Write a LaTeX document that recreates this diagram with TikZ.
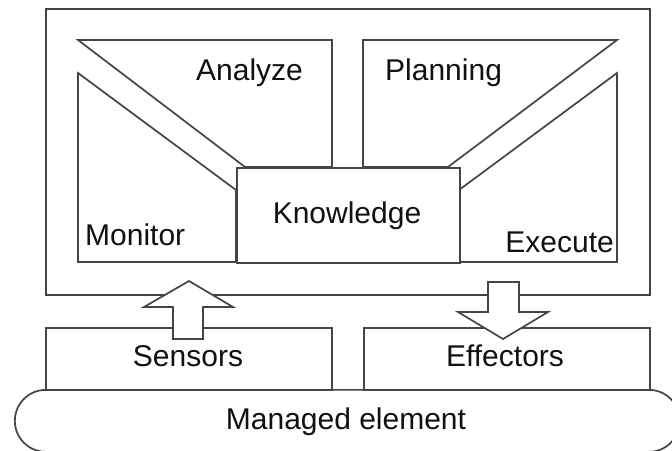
\documentclass[tikz,border=0pt]{standalone}
\usepackage{fontspec}
\setmainfont{Liberation Sans}
\definecolor{ln}{HTML}{444444}
\definecolor{tx}{HTML}{111111}
\begin{document}
\begin{tikzpicture}[x=1pt,y=-1pt,
  part/.style={draw=ln,line width=1.7pt,fill=white,line join=miter},
  lbl/.style={inner sep=0pt,text=tx,font=\fontsize{30}{36}\selectfont},
  boxnode/.style={draw=ln,line width=1.7pt,fill=white,inner sep=0pt}]
\useasboundingbox (0,0) rectangle (672,450);
\fill[white] (0,0) rectangle (672,450);
\clip (0,0) rectangle (672,450);
% outer manager box
\node[boxnode,anchor=north west,minimum width=604pt,minimum height=286pt] (mgr) at (45,8) {};
% four function areas
\draw[part] (78,40) -- (332,40) -- (332,167) -- (245,167) -- cycle;
\draw[part] (363,167) -- (363,40) -- (617,40) -- (448,167) -- cycle;
\draw[part] (78,73) -- (236,190) -- (236,262) -- (78,262) -- cycle;
\draw[part] (617,73) -- (459,190) -- (459,262) -- (617,262) -- cycle;
\node[boxnode,anchor=north west,minimum width=223pt,minimum height=95pt] (know) at (236,167) {};
\node[lbl,anchor=base west] (analyze) at (196,80) {Analyze};
\node[lbl,anchor=base west] (planning) at (385,80) {Planning};
\node[lbl,anchor=base west] (monitor) at (85,245) {Monitor};
\node[lbl,anchor=base east] (execute) at (614,252) {Execute};
\node[lbl,anchor=base] (knowtext) at (347,223) {Knowledge};
% managed element
\node[draw=ln,line width=1.7pt,fill=white,rounded corners=31pt,anchor=north west,
  minimum width=665pt,minimum height=62pt,inner sep=0pt] (me) at (14,389) {};
\node[lbl,anchor=base] (metext) at (346,429) {Managed element};
% sensors and effectors
\node[boxnode,anchor=north west,minimum width=286pt,minimum height=62pt] (sens) at (45,327) {};
\node[boxnode,anchor=north west,minimum width=286pt,minimum height=62pt] (eff) at (363,327) {};
\node[lbl,anchor=base] (senstext) at (188,366) {Sensors};
\node[lbl,anchor=base] (efftext) at (505,366) {Effectors};
% block arrows
\coordinate (upbase) at (188,339);
\coordinate (dntop) at (503,282);
\draw[part] (upbase) ++(-15,0) -- ++(0,-32) -- ++(-29,0) -- (189,281) -- (233,307) -- ++(-30,0) -- ++(0,32) -- cycle;
\draw[part] (dntop) ++(-15,0) -- ++(0,30) -- ++(-30,0) -- (503,339) -- (548,312) -- ++(-29,0) -- ++(0,-30) -- cycle;
\end{tikzpicture}
\end{document}
